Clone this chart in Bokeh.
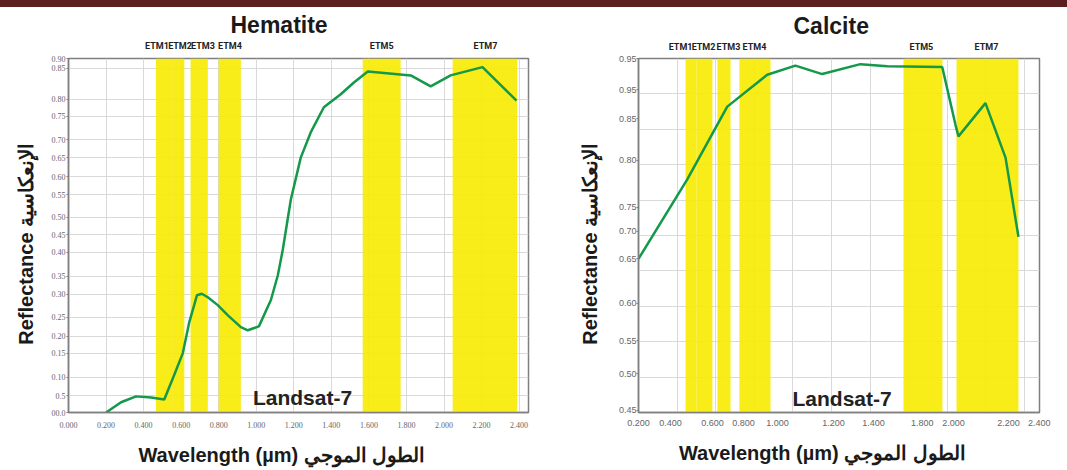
from bokeh.plotting import figure
from bokeh.layouts import row, column
from bokeh.models import FixedTicker, Label, Range1d, LinearAxis
from bokeh.embed import file_html
from bokeh.resources import INLINE

# ---------------- data ----------------
# Hematite spectrum (wavelength in micrometres, reflectance)
hem_wavelength = [0.20, 0.28, 0.36, 0.44, 0.51, 0.556, 0.609, 0.642, 0.684, 0.71, 0.742,
                  0.795, 0.849, 0.918, 0.955, 1.014, 1.078, 1.115, 1.141, 1.184, 1.237,
                  1.29, 1.36, 1.45, 1.52, 1.594, 1.823, 1.929, 2.035, 2.205, 2.386]
hem_reflectance = [0.000, 0.026, 0.041, 0.038, 0.033, 0.087, 0.151, 0.227, 0.298, 0.302, 0.293,
                   0.273, 0.247, 0.217, 0.209, 0.219, 0.286, 0.349, 0.413, 0.541, 0.648,
                   0.712, 0.776, 0.809, 0.839, 0.867, 0.857, 0.829, 0.857, 0.878, 0.793]
hem_band_names = ["ETM1", "ETM2", "ETM3", "ETM4", "ETM5", "ETM7"]
hem_band_start = [0.466, 0.556, 0.650, 0.800, 1.567, 2.046]
hem_band_end = [0.556, 0.617, 0.742, 0.918, 1.769, 2.389]
hem_band_label_x = [0.471, 0.594, 0.716, 0.860, 1.668, 2.221]
hem_xtick_values = [0.0, 0.2, 0.4, 0.6, 0.8, 1.0, 1.2, 1.4, 1.6, 1.8, 2.0, 2.2, 2.4]
hem_xtick_labels = ["0.000", "0.200", "0.400", "0.600", "0.800", "1.000", "1.200",
                    "1.400", "1.600", "1.800", "2.000", "2.200", "2.400"]
hem_ytick_values = [0.0, 0.043, 0.089, 0.151, 0.194, 0.242, 0.301, 0.347, 0.408, 0.452,
                    0.497, 0.554, 0.599, 0.648, 0.694, 0.753, 0.796, 0.875, 0.9]
hem_ytick_labels = ["00.0", "0.5", "0.10", "0.15", "0.20", "0.25", "0.30", "0.35", "0.40",
                    "0.45", "0.50", "0.55", "0.60", "0.65", "0.70", "0.75", "0.80", "0.85", "0.90"]
hem_x_range = (0.0, 2.45)
hem_y_range = (0.0, 0.9)

# Calcite spectrum
cal_wavelength = [0.200, 0.452, 0.660, 0.867, 1.013, 1.152, 1.350, 1.489, 1.774,
                  1.842, 1.858, 1.998, 2.102, 2.169]
cal_reflectance = [0.667, 0.779, 0.882, 0.927, 0.940, 0.928, 0.942, 0.939, 0.938,
                   0.857, 0.840, 0.887, 0.810, 0.698]
cal_band_names = ["ETM1", "ETM2", "ETM3", "ETM4", "ETM5", "ETM7"]
cal_band_start = [0.444, 0.500, 0.609, 0.723, 1.573, 1.848]
cal_band_end = [0.500, 0.583, 0.677, 0.884, 1.775, 2.169]
cal_band_label_x = [0.418, 0.537, 0.666, 0.801, 1.666, 2.003]
cal_xtick_values = [0.2, 0.366, 0.583, 0.744, 0.920, 1.210, 1.418, 1.671, 1.832, 2.117, 2.277]
cal_xtick_labels = ["0.200", "0.400", "0.600", "0.800", "1.000", "1.200", "1.400",
                    "1.800", "2.000", "2.200", "2.400"]
cal_xgrid_values = [0.4, 0.6, 0.8, 1.0, 1.2, 1.4, 1.6, 1.8, 2.0, 2.2]
cal_ytick_values = [0.453, 0.505, 0.551, 0.604, 0.667, 0.706, 0.740, 0.806, 0.865, 0.906, 0.95]
cal_ytick_labels = ["0.45", "0.50", "0.55", "0.60", "0.65", "0.70", "0.75", "0.80",
                    "0.85", "0.95", "0.95"]
cal_ygrid_values = [0.5, 0.55, 0.6, 0.65, 0.7, 0.75, 0.8, 0.85, 0.9]
cal_x_range = (0.2, 2.278)
cal_y_range = (0.45, 0.95)

# ---------------- styles ----------------
YELLOW = "#f7ea00"
GREEN = "#14984a"
GRID = "#d9d9d9"
FRAME = "#7f7f7f"
MAROON = "#5c1f1f"
SANS = "Liberation Sans"
NARROW = "Roboto"
X_LABEL = "Wavelength (\u00b5m)       الطول الموجي"
Y_LABEL = "Reflectance    الإنعكاسية"
PANEL_H = 463


def make_panel(width, mb_left, mb_right, mb_top, mb_bottom, xr, yr, title, title_offset):
    p = figure(width=width, height=PANEL_H, x_range=Range1d(*xr), y_range=Range1d(*yr),
               output_backend="svg", toolbar_location=None,
               min_border_left=mb_left, min_border_right=mb_right,
               min_border_top=mb_top, min_border_bottom=mb_bottom)
    p.title.text = title
    p.title.align = "left"
    p.title.offset = title_offset
    p.title.standoff = 0
    p.title.text_font = SANS
    p.title.text_font_style = "bold"
    p.title.text_font_size = "23px"
    p.title.text_color = "#1a1a1a"
    p.outline_line_color = FRAME
    p.outline_line_width = 1.5
    p.background_fill_color = "white"
    p.border_fill_color = "white"
    p.grid.grid_line_color = GRID
    p.grid.grid_line_width = 1
    for ax in (p.below[0], p.left[0]):
        ax.axis_line_color = FRAME
        ax.axis_line_width = 1.5
        ax.major_tick_line_color = FRAME
        ax.minor_tick_line_color = None
        ax.major_label_text_color = "#666666"
        ax.axis_label_text_font = SANS
        ax.axis_label_text_font_style = "bold"
        ax.axis_label_text_font_size = "20px"
        ax.axis_label_text_color = "#1a1a1a"
    p.below[0].major_tick_out = 0
    p.below[0].major_tick_in = 0
    p.left[0].major_tick_out = 2
    p.left[0].major_tick_in = 0
    p.below[0].axis_label = X_LABEL
    p.left[0].axis_label = Y_LABEL
    return p


def add_bands(p, starts, ends, names, label_x, yr, standoff):
    p.quad(left=starts, right=ends, bottom=yr[0], top=yr[1],
           fill_color=YELLOW, fill_alpha=0.9, line_color=None)
    band_axis = LinearAxis(ticker=FixedTicker(ticks=label_x),
                           major_label_overrides=dict(zip(label_x, names)),
                           axis_line_color=None, major_tick_line_color=None,
                           major_tick_out=0, major_tick_in=0,
                           minor_tick_line_color=None, major_label_standoff=standoff,
                           major_label_text_font=NARROW, major_label_text_font_style="bold",
                           major_label_text_font_size="9px", major_label_text_color="#222222")
    p.add_layout(band_axis, "above")


# ---------------- Hematite ----------------
p1 = make_panel(556, 68, 28, 51, 57, hem_x_range, hem_y_range, "Hematite", 162)
hx, hy = p1.below[0], p1.left[0]
add_bands(p1, hem_band_start, hem_band_end, hem_band_names, hem_band_label_x, hem_y_range, 8)
p1.line(hem_wavelength, hem_reflectance, line_color=GREEN, line_width=2.5)
hx.ticker = FixedTicker(ticks=hem_xtick_values)
hx.major_label_overrides = dict(zip(hem_xtick_values, hem_xtick_labels))
hy.ticker = FixedTicker(ticks=hem_ytick_values)
hy.major_label_overrides = dict(zip(hem_ytick_values, hem_ytick_labels))
p1.xgrid.ticker = FixedTicker(ticks=hem_xtick_values)
p1.ygrid.ticker = FixedTicker(ticks=hem_ytick_values)
for ax in (hx, hy):
    ax.major_label_text_font = "Liberation Serif"
    ax.major_label_text_font_size = "8px"
hx.major_label_standoff = 9
hy.major_label_standoff = 1
hx.axis_label_standoff = 13
hy.axis_label_standoff = 12
p1.add_layout(Label(x=0.982, y=0.038, text="Landsat-7", text_align="left",
                    text_baseline="alphabetic", text_font=SANS, text_font_style="bold",
                    text_font_size="21px", text_color="#222222"))

# ---------------- Calcite ----------------
p2 = make_panel(511, 82, 28, 50, 58, cal_x_range, cal_y_range, "Calcite", 155)
cx, cy = p2.below[0], p2.left[0]
add_bands(p2, cal_band_start, cal_band_end, cal_band_names, cal_band_label_x, cal_y_range, 7)
p2.line(cal_wavelength, cal_reflectance, line_color=GREEN, line_width=2.5)
cx.ticker = FixedTicker(ticks=cal_xtick_values)
cx.major_label_overrides = dict(zip(cal_xtick_values, cal_xtick_labels))
cy.ticker = FixedTicker(ticks=cal_ytick_values)
cy.major_label_overrides = dict(zip(cal_ytick_values, cal_ytick_labels))
p2.xgrid.ticker = FixedTicker(ticks=cal_xgrid_values)
p2.ygrid.ticker = FixedTicker(ticks=cal_ygrid_values)
for ax in (cx, cy):
    ax.major_label_text_font = SANS
    ax.major_label_text_font_size = "9px"
cx.major_label_standoff = 7
cy.major_label_standoff = 0
cx.axis_label_standoff = 13
cy.axis_label_standoff = 15
p2.add_layout(Label(x=0.998, y=0.4697, text="Landsat-7", text_align="left",
                    text_baseline="alphabetic", text_font=SANS, text_font_style="bold",
                    text_font_size="21px", text_color="#222222"))

# thin maroon header strip across the whole width
band = figure(width=1067, height=7, output_backend="svg", toolbar_location=None,
              min_border=0, x_axis_type=None, y_axis_type=None,
              background_fill_color=MAROON, border_fill_color=MAROON,
              outline_line_color=None, styles={"background-color": MAROON})
band.grid.visible = False

layout = column(band, row(p1, p2, spacing=0), spacing=0)
open("out.html", "w").write(file_html(layout, INLINE))
